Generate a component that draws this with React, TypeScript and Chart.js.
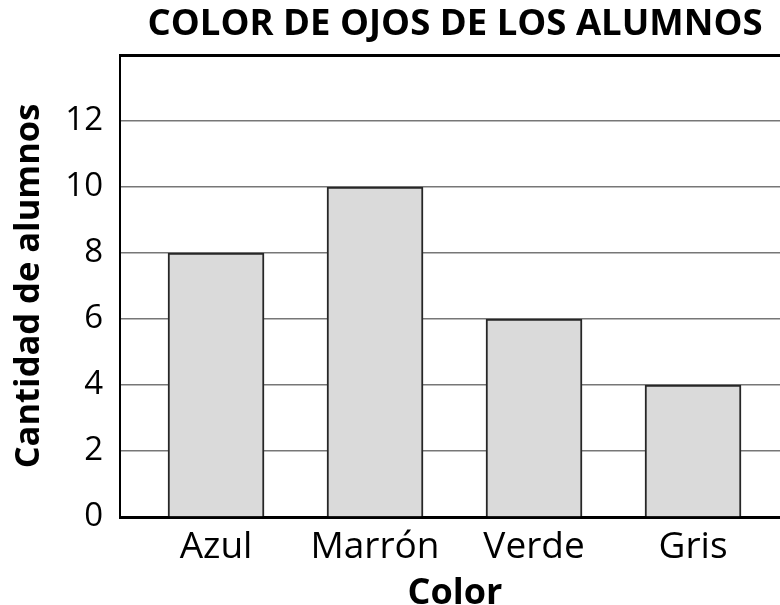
import { useEffect, useRef } from 'react';
import { Chart, registerables } from 'chart.js';

Chart.register(...registerables);

const chartTitle = 'COLOR DE OJOS DE LOS ALUMNOS';
const xAxisTitle = 'Color';
const yAxisTitle = 'Cantidad de alumnos';
const categories = ['Azul', 'Marrón', 'Verde', 'Gris'];
const values = [8, 10, 6, 4];
const yTickLabels = [0, 2, 4, 6, 8, 10, 12];
const yMax = 14;

const FONT = "'Open Sans', 'Noto Sans', sans-serif";

export default function App() {
  const canvasRef = useRef<HTMLCanvasElement | null>(null);

  useEffect(() => {
    const canvas = canvasRef.current;
    if (!canvas) return;
    const chart = new Chart(canvas, {
      type: 'bar',
      data: {
        datasets: [
          {
            data: values.map((v, i) => ({ x: i + 1, y: v })),
            backgroundColor: '#dadada',
            borderColor: '#262626',
            borderWidth: 2,
            barThickness: 96,
          },
        ],
      },
      options: {
        responsive: false,
        animation: false,
        layout: { padding: 0 },
        plugins: {
          legend: { display: false },
          tooltip: { enabled: false },
          title: {
            display: true,
            text: chartTitle,
            fullSize: false,
            color: '#000',
            font: { family: FONT, size: 36.5, weight: 'bold', lineHeight: 1.2 },
            padding: { top: 3, bottom: 8.2 },
          },
        },
        scales: {
          x: {
            type: 'linear',
            offset: false,
            min: 0.396,
            max: 4.61,
            afterBuildTicks: (scale: any) => {
              scale.ticks = categories.map((_, i) => ({ value: i + 1 }));
            },
            afterFit: (scale: any) => {
              scale.height = 88;
            },
            grid: { display: false, drawTicks: false },
            border: { display: true, color: '#000', width: 3 },
            ticks: {
              autoSkip: false,
              maxRotation: 0,
              color: '#000',
              padding: 8,
              font: { family: FONT, size: 37, lineHeight: 1.2 },
              callback: (v: any) => categories[Math.round(Number(v)) - 1] ?? '',
            },
            title: {
              display: true,
              text: xAxisTitle,
              color: '#000',
              font: { family: FONT, size: 36, weight: 'bold', lineHeight: 0.6 },
              padding: { top: 0, bottom: 0.5 },
            },
          },
          y: {
            min: 0,
            max: yMax,
            afterFit: (scale: any) => {
              scale.width = 120;
            },
            ticks: {
              stepSize: 2,
              color: '#000',
              padding: 17,
              font: { family: FONT, size: 33 },
              callback: (v: any) => (yTickLabels.includes(Number(v)) ? String(v) : ''),
            },
            grid: {
              drawTicks: false,
              color: (c: any) => (c.tick && (c.tick.value === yMax || c.tick.value === 0) ? '#000' : '#777'),
              lineWidth: (c: any) => (c.tick && c.tick.value === yMax ? 3 : 1.5),
            },
            border: { display: true, color: '#000', width: 2 },
            title: {
              display: true,
              text: yAxisTitle,
              color: '#000',
              font: { family: FONT, size: 34.5, weight: 'bold', lineHeight: 1.2 },
              padding: { top: 8, bottom: 0 },
            },
          },
        },
      },
    } as any);
    return () => chart.destroy();
  }, []);

  return (
    <div style={{ position: 'fixed', left: 0, top: 0, width: 780, height: 605, overflow: 'hidden', background: '#fff' }}>
      <canvas ref={canvasRef} width={790} height={605} style={{ display: 'block' }} />
    </div>
  );
}
